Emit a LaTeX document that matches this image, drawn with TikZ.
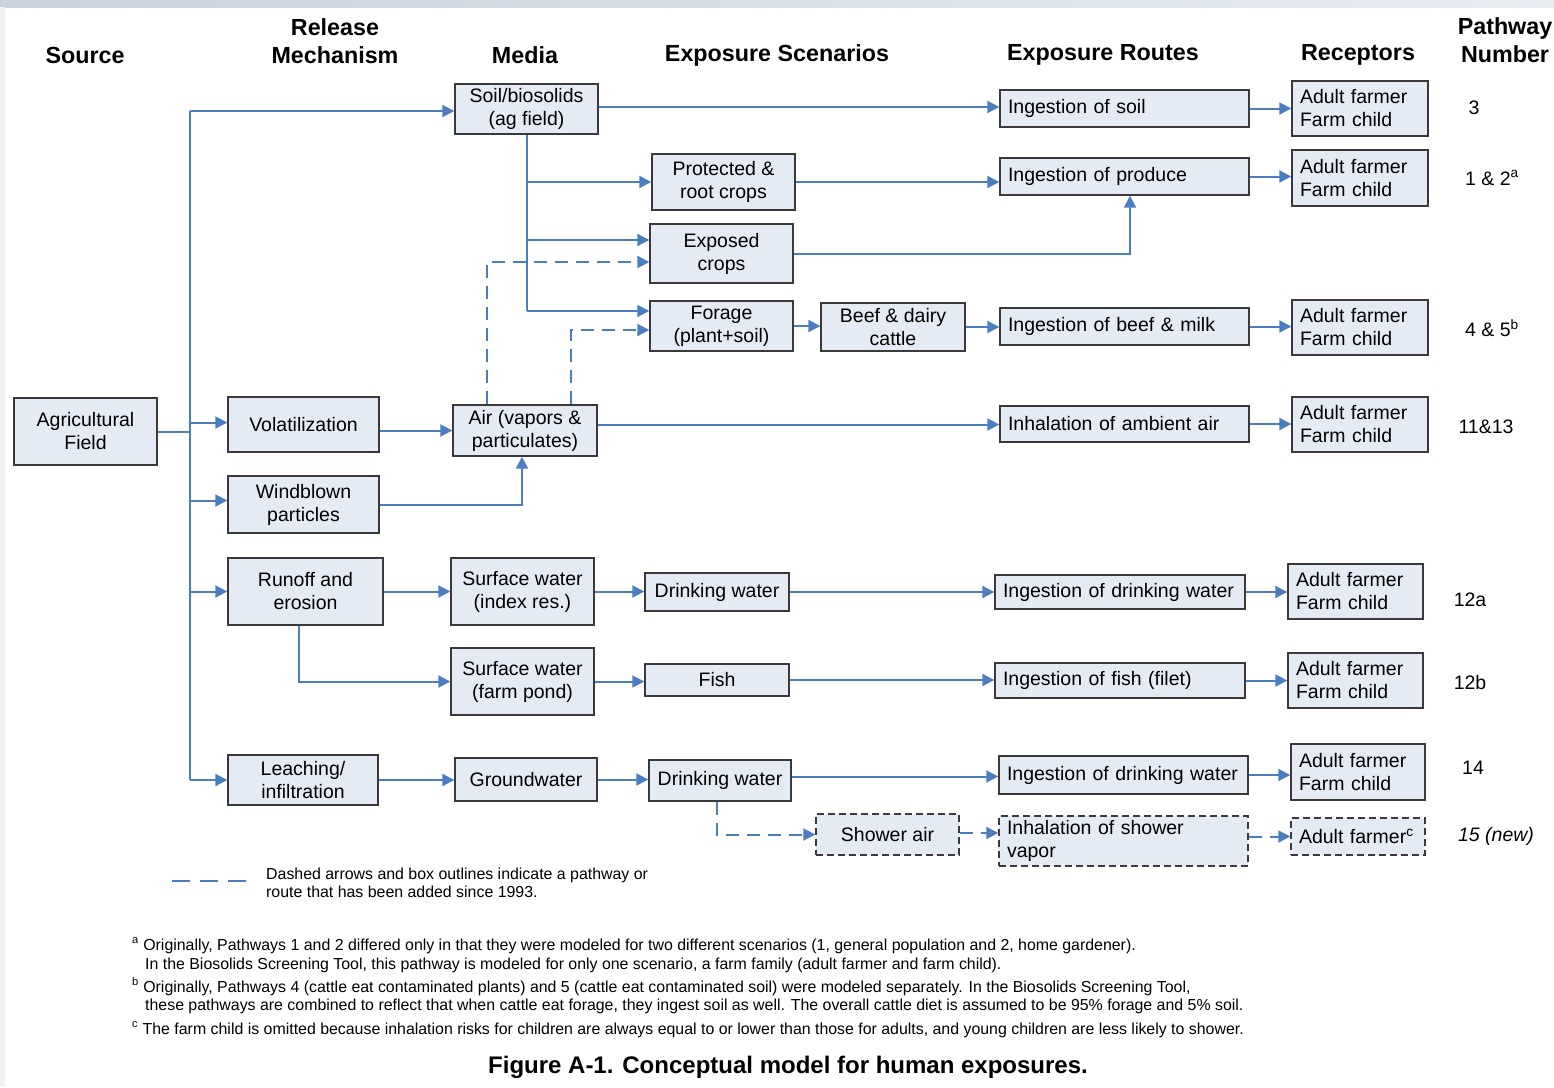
\documentclass[tikz,border=0pt]{standalone}
\usepackage{fontspec}
\setmainfont{Liberation Sans}
\usetikzlibrary{arrows.meta}
\definecolor{ablue}{RGB}{74,126,193}
\definecolor{bfill}{RGB}{229,235,245}
\definecolor{bdraw}{RGB}{58,58,58}
\definecolor{bandL}{RGB}{200,210,222}
\definecolor{bandR}{RGB}{232,237,242}
\definecolor{edgeC}{RGB}{240,243,246}
\tikzset{
 box/.style={draw=bdraw, fill=bfill, line width=1.4pt, align=center, inner sep=0pt, font=\fontsize{19.5}{23}\selectfont},
 lt/.style={text width=\tw pt, align=left, inner xsep=8pt},
 dbox/.style={dash pattern=on 7pt off 4pt},
 ln/.style={draw=ablue, line width=2pt},
 arr/.style={ln, -{Triangle[length=12pt,width=12pt]}},
 darr/.style={arr, dash pattern=on 13pt off 8pt},
 hdr/.style={font=\fontsize{23.3}{28}\selectfont\bfseries, align=center},
 pnum/.style={font=\fontsize{19.5}{23}\selectfont},
 foot/.style={font=\fontsize{15.9}{18}\selectfont, anchor=base west, inner sep=0pt},
}
\newcommand\mkbox[7][]{%
 \pgfmathsetmacro\cx{(#3+#5)/2}%
 \pgfmathsetmacro\cy{(#4+#6)/2}%
 \pgfmathsetmacro\bw{#5-#3}%
 \pgfmathsetmacro\bh{#6-#4}%
 \pgfmathsetmacro\tw{#5-#3-16}%
 \node[box,minimum width=\bw pt,minimum height=\bh pt,#1] (#2) at (\cx,\cy) {#7};}
\begin{document}
\begin{tikzpicture}[x=1pt,y=-1pt]
\useasboundingbox (0,0) rectangle (1554,1087);
\fill[white] (0,0) rectangle (1554,1087);
\shade[left color=bandL, right color=bandR] (0,0) rectangle (1554,7);
\fill[edgeC] (0,7) rectangle (5,1087);

% headers
\node[hdr] (hSrc) at (85,55) {Source};
\node[hdr] (hRel) at (335,41) {Release\\Mechanism};
\node[hdr] (hMed) at (525,55) {Media};
\node[hdr] (hSce) at (777,55) {Exposure Scenarios};
\node[hdr] (hRou) at (1103,55) {Exposure Routes};
\node[hdr] (hRec) at (1358,55) {Receptors};
\node[hdr] (hPat) at (1505,40) {Pathway\\Number};

% boxes
\mkbox{ag}{14}{398}{157}{465}{Agricultural\\Field}
\mkbox{volat}{228}{397}{379}{452}{Volatilization}
\mkbox{wind}{228}{476}{379}{533}{Windblown\\particles}
\mkbox{runoff}{228}{558}{383}{625}{Runoff and\\erosion}
\mkbox{leach}{228}{755}{378}{805}{Leaching/\\infiltration}
\mkbox{soil}{455}{84}{598}{134}{Soil/biosolids\\(ag field)}
\mkbox{air}{453}{405}{597}{456}{Air (vapors \&\\particulates)}
\mkbox{swi}{451}{558}{594}{625}{Surface water\\(index res.)}
\mkbox{swp}{451}{648}{594}{715}{Surface water\\(farm pond)}
\mkbox{gw}{455}{758}{597}{801}{Groundwater}
\mkbox{prot}{652}{154}{795}{210}{Protected \&\\root crops}
\mkbox{expo}{650}{224}{793}{283}{Exposed\\crops}
\mkbox{forage}{650}{301}{793}{351}{Forage\\(plant+soil)}
\mkbox{beef}{821}{303}{965}{351}{Beef \& dairy\\cattle}
\mkbox{dwa}{645}{573}{789}{611}{Drinking water}
\mkbox{fish}{645}{664}{789}{696}{Fish}
\mkbox{dwb}{649}{760}{791}{801}{Drinking water}
\mkbox[dbox]{shower}{816}{814}{959}{855}{Shower air}
\mkbox[lt]{isoil}{1000}{90}{1249}{127}{Ingestion of soil}
\mkbox[lt]{iprod}{1000}{158}{1249}{195}{Ingestion of produce}
\mkbox[lt]{ibeef}{1000}{308}{1249}{345}{Ingestion of beef \& milk}
\mkbox[lt]{iair}{1000}{406}{1249}{442}{Inhalation of ambient air}
\mkbox[lt]{idwa}{995}{575}{1245}{609}{Ingestion of drinking water}
\mkbox[lt]{ifish}{995}{663}{1245}{698}{Ingestion of fish (filet)}
\mkbox[lt]{idwb}{999}{756}{1248}{794}{Ingestion of drinking water}
\mkbox[lt,dbox]{ishow}{999}{816}{1248}{866}{Inhalation of shower\\vapor}
\mkbox[lt]{ra}{1292}{81}{1428}{136}{Adult farmer\\Farm child}
\mkbox[lt]{rb}{1292}{150}{1428}{206}{Adult farmer\\Farm child}
\mkbox[lt]{rc}{1292}{300}{1428}{355}{Adult farmer\\Farm child}
\mkbox[lt]{rd}{1292}{397}{1428}{452}{Adult farmer\\Farm child}
\mkbox[lt]{re}{1288}{564}{1423}{619}{Adult farmer\\Farm child}
\mkbox[lt]{rf}{1288}{653}{1423}{708}{Adult farmer\\Farm child}
\mkbox[lt]{rg}{1291}{744}{1425}{800}{Adult farmer\\Farm child}
\mkbox[lt,dbox]{rh}{1291}{818}{1425}{855}{Adult farmer\textsuperscript{c}}

% pathway numbers
\node[pnum] (p3) at (1474,108) {3};
\node[pnum] (p12) at (1492,178) {1 \& 2\textsuperscript{a}};
\node[pnum] (p45) at (1492,328) {4 \& 5\textsuperscript{b}};
\node[pnum] (p1113) at (1486,427) {11\&13};
\node[pnum] (p12a) at (1470,600) {12a};
\node[pnum] (p12b) at (1470,683) {12b};
\node[pnum] (p14) at (1473,768) {14};
\node[pnum,font=\fontsize{19.5}{23}\selectfont\itshape] (p15) at (1496,836) {15 (new)};

% trunk
\coordinate (tTop) at (190,111);
\coordinate (tBot) at (190,780);
\draw[ln] (ag.east) -- (ag.east -| tTop);
\draw[ln] (tTop) -- (tBot);
\draw[arr] (tTop) -- (tTop -| soil.west);
\draw[arr] ([yshift=2pt]volat.west -| tTop) -- ([yshift=2pt]volat.west);
\draw[arr] ([yshift=4pt]wind.west -| tTop) -- ([yshift=4pt]wind.west);
\draw[arr] (runoff.west -| tTop) -- (runoff.west);
\draw[arr] (tBot) -- (leach.west);

% release -> media
\draw[arr] ([yshift=-6pt]volat.east) -- ([yshift=-6pt]volat.east -| air.west);
\draw[arr] (wind.east) -| ([xshift=-3pt]air.south);
\draw[arr] (runoff.east) -- (runoff.east -| swi.west);
\draw[arr] ([xshift=-6.5pt]runoff.south) |- (swp.west);
\draw[arr] (leach.east) -- (leach.east -| gw.west);

% soil branches
\draw[ln] (soil.south) -- (soil.south |- 0,311);
\draw[arr] (soil.south |- prot.west) -- (prot.west);
\draw[arr] (soil.south |- 0,240) -- (expo.west |- 0,240);
\draw[arr] (soil.south |- 0,311) -- (forage.west |- 0,311);
\draw[darr] ([xshift=-38pt]air.north) |- (expo.west |- 0,262);
\draw[darr] ([xshift=46pt]air.north) |- (forage.west |- 0,330);

% media -> scenarios
\draw[arr] (swi.east) -- (swi.east -| dwa.west);
\draw[arr] (swp.east) -- (swp.east -| fish.west);
\draw[arr] (gw.east) -- (gw.east -| dwb.west);
\draw[arr] (forage.east) -- (forage.east -| beef.west);
\draw[darr] ([xshift=-3pt]dwb.south) |- (shower.west);

% -> routes
\draw[arr] ([yshift=2pt]soil.east) -- ([yshift=2pt]soil.east -| isoil.west);
\draw[arr] (prot.east) -- (prot.east -| iprod.west);
\draw[arr] (expo.east) -| ([xshift=5.5pt]iprod.south);
\draw[arr] (beef.east) -- (beef.east -| ibeef.west);
\draw[arr] ([yshift=6pt]air.east) -- ([yshift=6pt]air.east -| iair.west);
\draw[arr] (dwa.east) -- (dwa.east -| idwa.west);
\draw[arr] (fish.east) -- (fish.east -| ifish.west);
\draw[arr] ([yshift=4pt]dwb.east) -- ([yshift=4pt]dwb.east -| idwb.west);
\draw[darr] ([yshift=1.5pt]shower.east) -- ([yshift=1.5pt]shower.east -| ishow.west);

% -> receptors
\draw[arr] (isoil.east) -- (isoil.east -| ra.west);
\draw[arr] (iprod.east) -- (iprod.east -| rb.west);
\draw[arr] (ibeef.east) -- (ibeef.east -| rc.west);
\draw[arr] (iair.east) -- (iair.east -| rd.west);
\draw[arr] (idwa.east) -- (idwa.east -| re.west);
\draw[arr] (ifish.east) -- (ifish.east -| rf.west);
\draw[arr] (idwb.east) -- (idwb.east -| rg.west);
\draw[darr] (rh.west -| ishow.east) -- (rh.west);

% legend
\coordinate (legA) at (172,881);
\coordinate (legB) at (247,881);
\draw[ln, dash pattern=on 18pt off 10pt] (legA) -- (legB);
\node[foot] (leg1) at (266,879) {Dashed arrows and box outlines indicate a pathway or};
\node[foot] (leg2) at (266,897) {route that has been added since 1993.};

% footnotes
\node[foot] (fa1) at (132,950) {\textsuperscript{a} Originally, Pathways 1 and 2 differed only in that they were modeled for two different scenarios (1, general population and 2, home gardener).};
\node[foot] (fa2) at (145,969) {In the Biosolids Screening Tool, this pathway is modeled for only one scenario, a farm family (adult farmer and farm child).};
\node[foot] (fb1) at (132,992) {\textsuperscript{b} Originally, Pathways 4 (cattle eat contaminated plants) and 5 (cattle eat contaminated soil) were modeled separately. In the Biosolids Screening Tool,};
\node[foot] (fb2) at (145,1010) {these pathways are combined to reflect that when cattle eat forage, they ingest soil as well. The overall cattle diet is assumed to be 95\% forage and 5\% soil.};
\node[foot] (fc1) at (132,1034) {\textsuperscript{c} The farm child is omitted because inhalation risks for children are always equal to or lower than those for adults, and young children are less likely to shower.};

% caption
\node[font=\fontsize{24}{28}\selectfont\bfseries] (cap) at (788,1067) {Figure A-1. Conceptual model for human exposures.};
\end{tikzpicture}
\end{document}
